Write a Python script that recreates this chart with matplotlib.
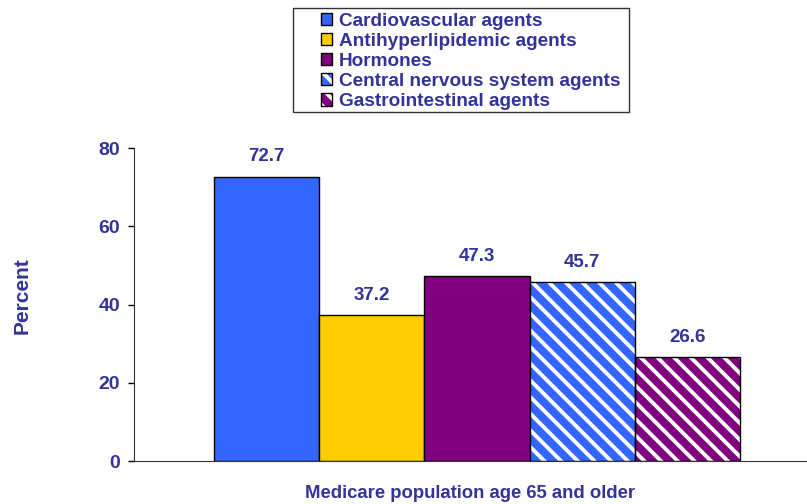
import matplotlib
matplotlib.use("Agg")
import matplotlib.pyplot as plt
from matplotlib.patches import Patch, Rectangle

categories = ["Cardiovascular agents", "Antihyperlipidemic agents", "Hormones",
              "Central nervous system agents", "Gastrointestinal agents"]
values = [72.7, 37.2, 47.3, 45.7, 26.6]
colors = ["#3366FF", "#FFCC00", "#800080", "#3366FF", "#800080"]
hatches = [None, None, None, "\\\\", "\\\\"]
yticks = [0, 20, 40, 60, 80]
xlabel = "Medicare population age 65 and older"
ylabel = "Percent"

NAVY = "#333399"
W, H = 807, 504
plt.rcParams["font.family"] = ["Liberation Sans", "DejaVu Sans"]
plt.rcParams["font.weight"] = "bold"
plt.rcParams["hatch.linewidth"] = 2.8

fig = plt.figure(figsize=(W / 100, H / 100), dpi=100)
ax = fig.add_axes([0.166, 0.0853, 0.833, 0.621])

xs = list(range(len(values)))
for x, v, c, h in zip(xs, values, colors, hatches):
    if h:
        # white stripes first, black outline on top
        ax.bar(x, v, width=1.0, color=c, edgecolor="white", hatch=h, linewidth=0, zorder=2)
        ax.bar(x, v, width=1.0, fill=False, edgecolor="black", linewidth=1.0, zorder=3)
    else:
        ax.bar(x, v, width=1.0, color=c, edgecolor="black", linewidth=1.0, zorder=2)
    ax.annotate(f"{v:.1f}", (x, v), xytext=(0, 8), textcoords="offset points",
                ha="center", va="bottom", color=NAVY, fontsize=13.5, fontweight="bold")

ax.set_xlim(-1.26, 5.127)
ax.set_ylim(0, 80)
ax.set_yticks(yticks)
ax.set_xticks([])
ax.tick_params(axis="y", direction="out", length=4, width=1, colors="black",
               labelcolor=NAVY, labelsize=14, pad=6)
for lab in ax.get_yticklabels():
    lab.set_fontweight("bold")
ax.spines["top"].set_visible(False)
ax.spines["right"].set_visible(False)
ax.spines["left"].set_color("#333333")
ax.spines["bottom"].set_color("#333333")

ax.set_xlabel(xlabel, color=NAVY, fontsize=13.3, fontweight="bold", labelpad=17)
fig.text(22 / W, 1 - 296 / H, ylabel, rotation=90, ha="center", va="center",
         color=NAVY, fontsize=15, fontweight="bold")

# legend frame drawn by hand so the left padding can be wider than the right
fig.patches.append(Rectangle((293 / W, 1 - 112 / H), 336 / W, 104 / H,
                             transform=fig.transFigure, facecolor="white",
                             edgecolor="#333333", linewidth=1.0, zorder=1))
handles = []
for c, h in zip(colors, hatches):
    if h:
        handles.append((Patch(facecolor=c, edgecolor="white", hatch=h, linewidth=0),
                        Patch(fill=False, edgecolor="black", linewidth=1.0)))
    else:
        handles.append(Patch(facecolor=c, edgecolor="black", linewidth=1.0))
leg = fig.legend(handles, categories, loc="upper left",
                 bbox_to_anchor=(321 / W, 1 - 13 / H),
                 frameon=False, fontsize=13.7, handlelength=0.6, handleheight=0.6,
                 handletextpad=0.35, labelspacing=0.16, borderpad=0.0,
                 borderaxespad=0)
for t in leg.get_texts():
    t.set_color(NAVY)
    t.set_fontweight("bold")

fig.savefig("out.png", dpi=100)
